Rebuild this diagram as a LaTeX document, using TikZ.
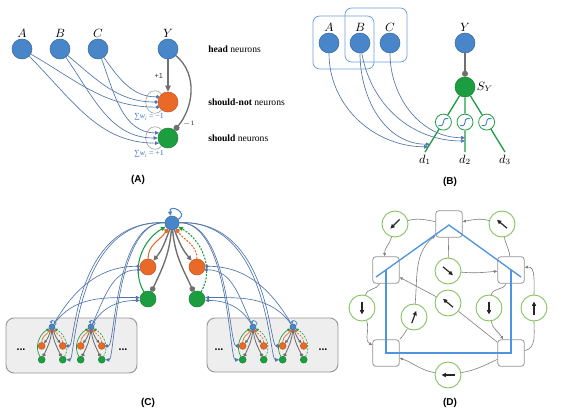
\documentclass[tikz,border=0pt]{standalone}
\usepackage{fontspec}
\setmainfont{Liberation Serif}
\newfontfamily\capfont{Liberation Sans}
\usetikzlibrary{arrows.meta,calc}

\definecolor{nblue}{RGB}{72,133,201}
\definecolor{norange}{RGB}{233,105,40}
\definecolor{ngreen}{RGB}{28,158,64}
\definecolor{lblue}{RGB}{82,118,172}
\definecolor{cgray}{RGB}{112,112,112}
\definecolor{sumblue}{RGB}{48,112,205}
\definecolor{boxblue}{RGB}{105,160,218}
\definecolor{sgray}{RGB}{150,150,150}
\definecolor{cfill}{RGB}{238,238,238}
\definecolor{dgreen}{RGB}{135,196,95}
\definecolor{dgray}{RGB}{125,125,125}
\definecolor{hblue}{RGB}{78,148,222}

\tikzset{
  hn/.style={circle, fill=nblue, draw=nblue!80!black, line width=0.4pt, minimum size=15pt, inner sep=0pt},
  non/.style={circle, fill=norange, draw=norange!85!black, line width=0.4pt, minimum size=15pt, inner sep=0pt},
  sn/.style={circle, fill=ngreen, draw=ngreen!85!black, line width=0.4pt, minimum size=15pt, inner sep=0pt},
  lab/.style={font=\fontsize{9}{10}\selectfont, inner sep=1pt},
  txt/.style={font=\fontsize{7.2}{8}\selectfont, anchor=west, inner sep=0pt},
  small/.style={font=\capfont\fontsize{5.5}{6}\selectfont, text=black!80},
  wsum/.style={font=\fontsize{5.8}{6}\selectfont, text=sumblue, inner sep=0pt},
  capt/.style={font=\capfont\bfseries\fontsize{7.5}{8}\selectfont},
  bline/.style={draw=lblue, line width=0.5pt},
  bdot/.style={bline, -{Circle[length=2.6pt]}},
  barr/.style={bline, -{Triangle[length=3pt, width=2.6pt]}},
  garr/.style={draw=cgray, line width=1pt, -{Triangle[length=4.5pt, width=4pt]}},
  gdot/.style={draw=cgray, line width=1pt, -{Circle[length=4.5pt]}},
  rim/.style={draw=sgray, line width=0.4pt},
  bbox/.style={draw=boxblue, line width=0.6pt, rounded corners=5pt},
  glink/.style={draw=ngreen, line width=1pt},
  sig/.style={circle, draw=ngreen, fill=white, line width=0.6pt, minimum size=12pt, inner sep=0pt},
  sigl/.style={draw=nblue, line width=0.7pt},
  % module in (C)
  ct/.style={hn, minimum size=10.5pt},
  cno/.style={non, minimum size=12pt},
  cs/.style={sn, minimum size=12pt},
  cgar/.style={draw=cgray, line width=1.3*\lw, -{Triangle[length=0pt 3.6, width=0pt 3.4]}},
  cgdot/.style={draw=cgray, line width=1.3*\lw, -{Circle[length=0pt 4]}},
  codot/.style={draw=norange, line width=\lw, -{Circle[length=0pt 4.5]}},
  cgnar/.style={draw=ngreen, line width=\lw, -{Triangle[length=0pt 4.5, width=0pt 4]}},
  cloop/.style={draw=nblue, line width=\lw, -{Triangle[length=0pt 4, width=0pt 3.6]}},
  dsh/.style={dash pattern=on 1.5pt off 1pt},
  cbox/.style={draw=sgray, fill=cfill, line width=0.7pt, rounded corners=6pt},
  ell/.style={font=\capfont\bfseries\fontsize{8}{9}\selectfont},
  % graph in (D)
  sq/.style={rectangle, rounded corners=2.5pt, draw=sgray, fill=white, line width=0.6pt, minimum size=20pt, inner sep=0pt},
  dc/.style={circle, draw=dgreen, fill=white, line width=0.7pt, minimum size=19.5pt, inner sep=0pt},
  dl/.style={draw=dgray, line width=0.45pt},
  da/.style={dl, -{Triangle[length=2.4pt, width=2pt]}},
  vec/.style={draw=black!85, line width=0.9pt, -{Triangle[length=3.2pt, width=3pt]}},
  house/.style={draw=hblue, line width=1pt}
}

% one head neuron with its should-not and should neurons
\newcommand{\cmod}[5]{%
  \begin{scope}[shift={(#2,#3)}, scale=#4, transform shape]
    \pgfmathsetlengthmacro\lw{#5}
    \node[ct] (#1T) at (0,0) {};
    \node[cno] (#1OL) at (-24,-44) {};
    \node[cno] (#1OR) at (25,-44) {};
    \node[cs] (#1GL) at (-24,-76) {};
    \node[cs] (#1GR) at (25,-76) {};
    \draw[cgar] (#1T) to[out=-110, in=50] (#1OL);
    \draw[cgar] (#1T) to[out=-70, in=130] (#1OR);
    \draw[cgdot] (#1T) to[out=-95, in=65] (#1GL);
    \draw[cgdot] (#1T) to[out=-85, in=115] (#1GR);
    \draw[codot] (#1OL) to[out=90, in=-125] (#1T);
    \draw[codot, dsh] (#1OR) to[out=90, in=-55] (#1T);
    \draw[cgnar] (#1GL) to[out=120, in=-150] (#1T);
    \draw[cgnar, dsh] (#1GR) to[out=60, in=-30] (#1T);
    \draw[cloop] (#1T) to[out=30, in=100, looseness=4] (#1T);
  \end{scope}}

\begin{document}
\begin{tikzpicture}[x=0.75pt, y=0.75pt]
  \useasboundingbox (0,0) rectangle (564,-412);

  % (A)
  \draw[rim] (155,-102) ellipse [x radius=7pt, y radius=8.5pt];
  \draw[rim] (155,-138) ellipse [x radius=7pt, y radius=8.5pt];
  \node[hn, label={[lab]above:$A$}] (A1) at (22,-49) {};
  \node[hn, label={[lab]above:$B$}] (B1) at (60,-49) {};
  \node[hn, label={[lab]above:$C$}] (C1) at (98,-49) {};
  \node[hn, label={[lab]above:$Y$}] (Y1) at (168,-49) {};
  \node[non] (no1) at (168,-102) {};
  \node[sn] (sh1) at (168,-138) {};

  \draw[bdot] (C1) to[out=-55, in=180] (no1.150);
  \draw[bdot] (B1) to[out=-40, in=180] (no1.180);
  \draw[bdot] (A1) to[out=-30, in=180] (no1.210);
  \draw[barr] (C1) to[out=-70, in=180] (sh1.150);
  \draw[barr] (B1) to[out=-55, in=180] (sh1.180);
  \draw[barr] (A1) to[out=-45, in=180] (sh1.210);

  \draw[garr] (Y1) -- node[small, left] (p1) {+1} (no1);
  \draw[gdot] (Y1) to[out=-40, in=50] (sh1);
  \node[small] (m1) at (189,-124) {$-1$};

  \node[wsum] (w1) at (149,-117) {∑\textit{w}\textsubscript{\textit{i}} = −1};
  \node[wsum] (w2) at (149,-154) {∑\textit{w}\textsubscript{\textit{i}} = +1};

  \node[txt] (t1) at (208,-49) {\textbf{head} neurons};
  \node[txt] (t2) at (208,-102) {\textbf{should-not} neurons};
  \node[txt] (t3) at (208,-138) {\textbf{should} neurons};
  \node[capt] (ca) at (138,-180) {(A)};

  % (B)
  \draw[bbox] (313,-16) rectangle (374,-69);
  \draw[bbox] (345,-8) rectangle (407,-62);
  \node[hn, label={[lab]above:$A$}] (A2) at (329,-43) {};
  \node[hn, label={[lab]above:$B$}] (B2) at (360,-43) {};
  \node[hn, label={[lab]above:$C$}] (C2) at (390,-43) {};
  \node[hn, label={[lab]above:$Y$}] (Y2) at (465,-43) {};
  \node[sn, label={[lab]right:$S_Y$}] (SY) at (465,-87) {};
  \draw[gdot] (Y2) -- (SY);

  \coordinate (d1) at (425,-152);
  \coordinate (d2) at (465,-152);
  \coordinate (d3) at (505,-152);
  \node[sig] (sg1) at ($(SY)!0.54!(d1)$) {};
  \node[sig] (sg2) at ($(SY)!0.54!(d2)$) {};
  \node[sig] (sg3) at ($(SY)!0.54!(d3)$) {};
  \draw[glink] (SY) -- (sg1) -- (d1);
  \draw[glink] (SY) -- (sg2) -- (d2);
  \draw[glink] (SY) -- (sg3) -- (d3);
  \foreach \s in {sg1,sg2,sg3}
    \draw[sigl] ([shift={(-5,-3.5)}]\s.center) -- ++(3,0)
      .. controls +(2.5,0) and +(-2.5,0) .. ++(4,7) -- ++(3,0);
  \node[lab, below=1pt] (ld1) at (d1) {$d_1$};
  \node[lab, below=1pt] (ld2) at (d2) {$d_2$};
  \node[lab, below=1pt] (ld3) at (d3) {$d_3$};

  \coordinate (q1) at ($(SY)!0.92!(d1)$);
  \coordinate (q2) at ($(SY)!0.88!(d1)$);
  \coordinate (q3) at ($(SY)!0.83!(d2)$);
  \coordinate (q4) at ($(SY)!0.78!(d2)$);
  \draw[barr] (A2) to[out=-90, in=180] (q1);
  \draw[barr] (B2) to[out=-90, in=180] (q2);
  \draw[barr] (B2) to[out=-80, in=180] (q3);
  \draw[barr] (C2) to[out=-90, in=180] (q4);
  \node[capt] (cb) at (450,-182) {(B)};

  % (C)
  \draw[cbox] (6,-318) rectangle (137,-373);
  \draw[cbox] (207,-318) rectangle (338,-372);
  \node[ell] (e1) at (21,-350) {...};
  \node[ell] (e2) at (123,-350) {...};
  \node[ell] (e3) at (219,-350) {...};
  \node[ell] (e4) at (323,-350) {...};

  \cmod{m}{172}{-223}{1}{0.8pt}
  \foreach \nm/\x in {s1/52,s2/91,s3/253,s4/293}
    {\cmod{\nm}{\x}{-327}{0.43}{0.5pt}}

  \draw[bdot] (s1T) to[out=60, in=180] (mOL.175);
  \draw[barr] (s1T) to[out=55, in=180] (mGL.170);
  \draw[bdot] (s2T) to[out=65, in=180] (mOL.200);
  \draw[barr] (s2T) to[out=60, in=180] (mGL.190);
  \draw[bdot] (s4T) to[out=120, in=0] (mOR.5);
  \draw[barr] (s4T) to[out=125, in=0] (mGR.10);
  \draw[bdot] (s3T) to[out=115, in=0] (mOR.-20);
  \draw[barr] (s3T) to[out=120, in=0] (mGR.-10);

  \draw[bdot] (mT) .. controls (75,-219) and (75,-346) .. (s1OR);
  \draw[barr] (mT) .. controls (75,-219) and (75,-360) .. (s1GR);
  \draw[bdot] (mT) .. controls (115,-221) and (115,-346) .. (s2OR);
  \draw[barr] (mT) .. controls (115,-221) and (115,-360) .. (s2GR);
  \draw[bdot] (mT) .. controls (229,-221) and (229,-346) .. (s3OL);
  \draw[barr] (mT) .. controls (229,-221) and (229,-360) .. (s3GL);
  \draw[bdot] (mT) .. controls (269,-219) and (269,-346) .. (s4OL);
  \draw[barr] (mT) .. controls (269,-219) and (269,-360) .. (s4GL);
  \node[capt] (cc) at (148,-403) {(C)};

  % (D)
  \node[sq] (qT) at (449,-224) {};
  \node[sq] (qL) at (386,-270) {};
  \node[sq] (qR) at (511,-270) {};
  \node[sq] (qBL) at (386,-353) {};
  \node[sq] (qBR) at (511,-353) {};
  \node[dc] (k1) at (395,-224) {};
  \node[dc] (k2) at (502,-224) {};
  \node[dc] (k3) at (448,-271) {};
  \node[dc] (k4) at (448,-303) {};
  \node[dc] (k5) at (362,-308) {};
  \node[dc] (k6) at (414,-317) {};
  \node[dc] (k7) at (489,-308) {};
  \node[dc] (k8) at (534,-308) {};
  \node[dc] (k9) at (448,-375) {};

  \draw[dl] (qT) to[out=170, in=15] (k1);
  \draw[da] (k1) to[out=-105, in=95] (qL);
  \draw[dl] (qR) to[out=95, in=-80] (k2);
  \draw[da] (k2) to[out=165, in=10] (qT);
  \draw[dl] (qT) -- (k3);
  \draw[da] (k3) to[out=-5, in=185] (qR);
  \draw[dl] (qBR) -- (k4);
  \draw[da] (k4) -- (qL);
  \draw[dl] (qR) to[out=-110, in=80] (k7);
  \draw[da] (k7) to[out=-80, in=120] (qBR);
  \draw[dl] (qBR) to[out=10, in=-90] (k8);
  \draw[da] (k8) to[out=90, in=10] (qR);
  \draw[dl] (qL) to[out=-115, in=75] (k5);
  \draw[da] (k5) to[out=-70, in=150] (qBL);
  \draw[dl] (qBL) to[out=45, in=-120] (k6);
  \draw[da] (k6) to[out=85, in=-140] (qT);
  \draw[dl] (qBR) to[out=-155, in=10] (k9);
  \draw[da] (k9) to[out=170, in=-20] (qBL);

  \foreach \k/\a in {k1/225, k2/140, k3/-40, k4/140, k5/-90, k6/70, k7/-90, k8/90, k9/180}
    \draw[vec] ($(\k)+(\a+180:6.5)$) -- ($(\k)+(\a:6.5)$);

  \draw[house] (376,-277) -- (449,-225) -- (521,-277);
  \draw[house] (386,-270) -- (386,-353) -- (511,-353) -- (511,-270);
  \node[capt] (cd) at (450,-403) {(D)};
\end{tikzpicture}
\end{document}
